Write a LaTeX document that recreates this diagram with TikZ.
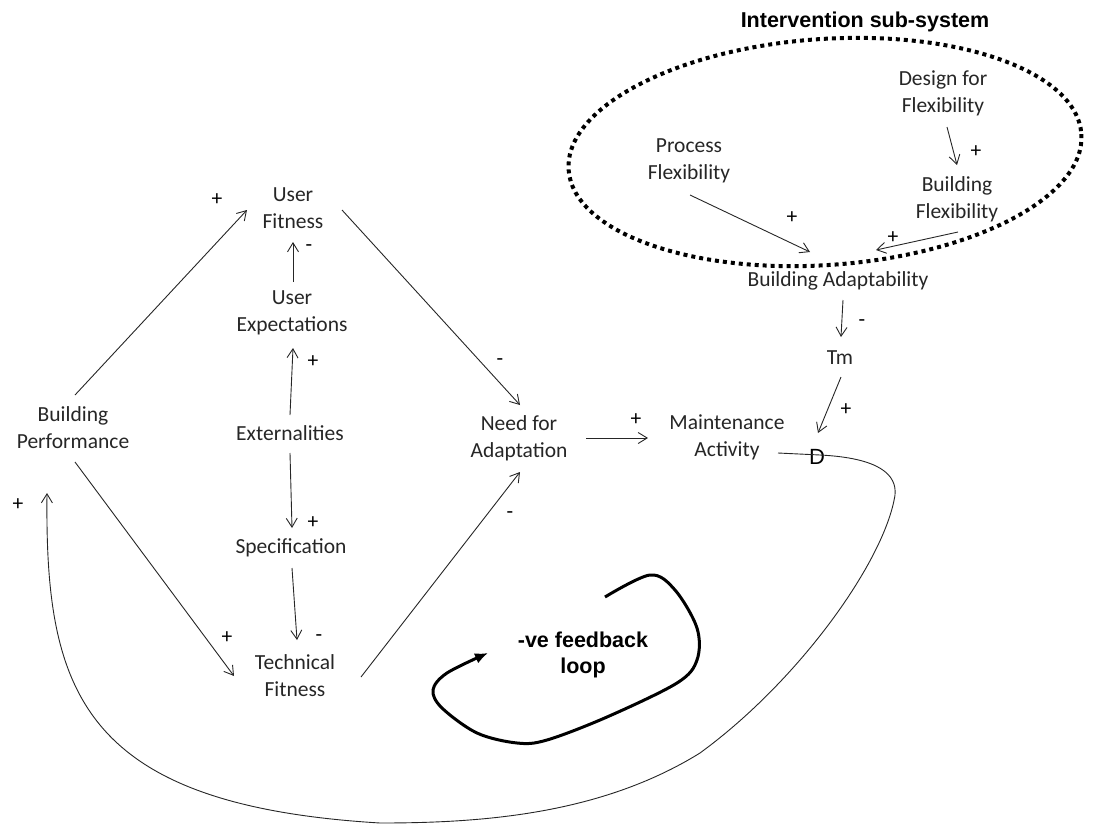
\documentclass[tikz,border=0pt]{standalone}
\usepackage{fontspec}
\setmainfont{Carlito}
\newfontfamily\arialish{Liberation Sans}
\usetikzlibrary{arrows.meta}
\begin{document}
\begin{tikzpicture}[x=1pt,y=-1pt,
  lbl/.style={font=\fontsize{21.5}{27}\selectfont, align=center, inner sep=0pt, text=black!85},
  sgn/.style={font=\fontsize{21.5}{27}\selectfont, inner sep=0pt, text=black},
  conn/.style={line width=0.9pt, draw=black!85, -{Straight Barb[length=9pt,width=11pt]}},
  bigcurve/.style={line width=0.9pt, draw=black!85, -{Straight Barb[length=9pt,width=11pt]}},
  fbloop/.style={line width=3pt, draw=black, -{Latex[length=13pt,width=11pt]}},
  dotsring/.style={line width=4pt, draw=black, dash pattern=on 4pt off 4pt},
  heading/.style={font=\arialish\bfseries\fontsize{21.5}{26}\selectfont, align=center, inner sep=0pt}
]
\useasboundingbox (0,0) rectangle (1101,825);

% intervention sub-system ring
\draw[dotsring, rotate around={4:(825,152)}] (825,152) ellipse [x radius=257, y radius=113];
\node[heading] (title) at (865,22) {Intervention sub-system};

% nodes
\node[lbl] (BP)  at (73,428)  {Building\\Performance};
\node[lbl] (UF)  at (293,208) {User\\Fitness};
\node[lbl] (UE)  at (292,313) {User\\Expectations};
\node[lbl] (Ext) at (290,433) {Externalities};
\node[lbl] (Spec) at (291,548) {Specification};
\node[lbl] (TF)  at (295,676) {Technical\\Fitness};
\node[lbl] (NfA) at (519,438) {Need for\\Adaptation};
\node[lbl] (MA)  at (727,437) {Maintenance\\Activity};
\node[lbl] (Tm)  at (840,358) {Tm};
\node[lbl] (BA)  at (838,281) {Building Adaptability};
\node[lbl] (PF)  at (689,161) {Process\\Flexibility};
\node[lbl] (DfF) at (943,93)  {Design for\\Flexibility};
\node[lbl] (BF)  at (957,199) {Building\\Flexibility};
\node[font=\arialish\fontsize{22}{26}\selectfont, inner sep=0pt] (D) at (817,457) {D};
\node[heading] (FB) at (583,655) {-ve feedback\\loop};

% connectors
\draw[conn] ([shift={(2,-33)}]BP.center) -- ([shift={(-46,2)}]UF.center);
\draw[conn] ([shift={(1,-31)}]UE.center) -- ([shift={(0,34)}]UF.center);
\draw[conn] ([shift={(0,-18)}]Ext.center) -- ([shift={(1,35)}]UE.center);
\draw[conn] ([shift={(0,20)}]Ext.center) -- ([shift={(1,-20)}]Spec.center);
\draw[conn] ([shift={(1,20)}]Spec.center) -- ([shift={(2,-36)}]TF.center);
\draw[conn] ([shift={(2,34)}]BP.center) -- ([shift={(-61,0)}]TF.center);
\draw[conn] ([shift={(66,1)}]TF.center) -- ([shift={(1,34)}]NfA.center);
\draw[conn] ([shift={(49,2)}]UF.center) -- ([shift={(1,-33)}]NfA.center);
\draw[conn] ([shift={(67,0)}]NfA.center) -- ([shift={(-79,1)}]MA.center);
\draw[conn] ([shift={(5,19)}]BA.center) -- ([shift={(1,-21)}]Tm.center);
\draw[conn] ([shift={(1,19)}]Tm.center) -- ([shift={(1,-24)}]D.center);
\draw[conn] ([shift={(4,34)}]DfF.center) -- ([shift={(0,-34)}]BF.center);
\draw[conn] ([shift={(1,34)}]PF.center) -- ([shift={(-28,-29)}]BA.center);
\draw[conn] ([shift={(1,33)}]BF.center) -- ([shift={(38,-31)}]BA.center);

% big return curve from Maintenance Activity (through D) back to Building Performance
\draw[bigcurve] ([shift={(51,16)}]MA.center) -- (820,455)
  .. controls (880,458) and (897,475) .. (895,495)
  .. controls (885,560) and (800,680) .. (700,753)
  .. controls (600,815) and (480,823) .. (380,823)
  .. controls (80,805) and (45,690) .. ([shift={(-26,65)}]BP.center);

% -ve feedback loop arrow
\draw[fbloop] plot[smooth, tension=0.55] coordinates {(605,597) (650,575) (675,590) (697,628) (697,660) (677,683) (607,717) (547,740) (517,743) (477,733) (442,708) (433,690) (447,673) (488,653)};

% polarity signs
\node[sgn] (s1) at (217,200) {+};
\node[sgn] (s2) at (309,248) {-};
\node[sgn] (s3) at (313,362) {+};
\node[sgn] (s4) at (313,523) {+};
\node[sgn] (s5) at (319,638) {-};
\node[sgn] (s6) at (227,638) {+};
\node[sgn] (s7) at (510,515) {-};
\node[sgn] (s8) at (500,362) {-};
\node[sgn] (s9) at (636,420) {+};
\node[sgn] (s10) at (862,323) {-};
\node[sgn] (s11) at (846,410) {+};
\node[sgn] (s12) at (976,152) {+};
\node[sgn] (s13) at (792,218) {+};
\node[sgn] (s14) at (893,238) {+};
\node[sgn] (s15) at (18,505) {+};
\end{tikzpicture}
\end{document}
